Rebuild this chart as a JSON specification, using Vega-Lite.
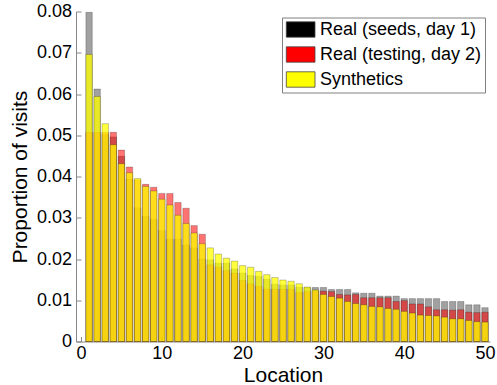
{
  "$schema": "https://vega.github.io/schema/vega-lite/v6.json",
  "width": 414,
  "height": 330,
  "autosize": {"type": "none"},
  "padding": {"left": 76, "top": 11.5, "right": 7, "bottom": 43.5},
  "background": "#ffffff",
  "data": {"values": [
    {"loc": 1, "seeds": 0.0798, "testing": 0.0507, "synth": 0.0696},
    {"loc": 2, "seeds": 0.0612, "testing": 0.0507, "synth": 0.0594},
    {"loc": 3, "seeds": 0.0502, "testing": 0.0507, "synth": 0.0528},
    {"loc": 4, "seeds": 0.0496, "testing": 0.0507, "synth": 0.0477},
    {"loc": 5, "seeds": 0.0449, "testing": 0.0464, "synth": 0.0431},
    {"loc": 6, "seeds": 0.0394, "testing": 0.0423, "synth": 0.0409},
    {"loc": 7, "seeds": 0.0324, "testing": 0.0392, "synth": 0.0395},
    {"loc": 8, "seeds": 0.0303, "testing": 0.0381, "synth": 0.0376},
    {"loc": 9, "seeds": 0.0296, "testing": 0.0374, "synth": 0.0365},
    {"loc": 10, "seeds": 0.0269, "testing": 0.0359, "synth": 0.0345},
    {"loc": 11, "seeds": 0.0248, "testing": 0.0359, "synth": 0.0331},
    {"loc": 12, "seeds": 0.0248, "testing": 0.0337, "synth": 0.0306},
    {"loc": 13, "seeds": 0.0234, "testing": 0.0323, "synth": 0.0286},
    {"loc": 14, "seeds": 0.0227, "testing": 0.0281, "synth": 0.0263},
    {"loc": 15, "seeds": 0.0200, "testing": 0.0260, "synth": 0.0237},
    {"loc": 16, "seeds": 0.0198, "testing": 0.0186, "synth": 0.0227},
    {"loc": 17, "seeds": 0.0190, "testing": 0.0180, "synth": 0.0212},
    {"loc": 18, "seeds": 0.0190, "testing": 0.0172, "synth": 0.0202},
    {"loc": 19, "seeds": 0.0176, "testing": 0.0166, "synth": 0.0195},
    {"loc": 20, "seeds": 0.0166, "testing": 0.0148, "synth": 0.0184},
    {"loc": 21, "seeds": 0.0160, "testing": 0.0140, "synth": 0.0180},
    {"loc": 22, "seeds": 0.0158, "testing": 0.0134, "synth": 0.0170},
    {"loc": 23, "seeds": 0.0151, "testing": 0.0127, "synth": 0.0162},
    {"loc": 24, "seeds": 0.0139, "testing": 0.0127, "synth": 0.0155},
    {"loc": 25, "seeds": 0.0137, "testing": 0.0127, "synth": 0.0149},
    {"loc": 26, "seeds": 0.0137, "testing": 0.0127, "synth": 0.0146},
    {"loc": 27, "seeds": 0.0132, "testing": 0.0119, "synth": 0.0140},
    {"loc": 28, "seeds": 0.0131, "testing": 0.0121, "synth": 0.0132},
    {"loc": 29, "seeds": 0.0131, "testing": 0.0123, "synth": 0.0125},
    {"loc": 30, "seeds": 0.0131, "testing": 0.0122, "synth": 0.0114},
    {"loc": 31, "seeds": 0.0126, "testing": 0.0121, "synth": 0.0109},
    {"loc": 32, "seeds": 0.0126, "testing": 0.0114, "synth": 0.0105},
    {"loc": 33, "seeds": 0.0126, "testing": 0.0113, "synth": 0.0097},
    {"loc": 34, "seeds": 0.0118, "testing": 0.0114, "synth": 0.0092},
    {"loc": 35, "seeds": 0.0117, "testing": 0.0106, "synth": 0.0089},
    {"loc": 36, "seeds": 0.0117, "testing": 0.0106, "synth": 0.0085},
    {"loc": 37, "seeds": 0.0110, "testing": 0.0106, "synth": 0.0084},
    {"loc": 38, "seeds": 0.0110, "testing": 0.0106, "synth": 0.0080},
    {"loc": 39, "seeds": 0.0110, "testing": 0.0097, "synth": 0.0078},
    {"loc": 40, "seeds": 0.0104, "testing": 0.0099, "synth": 0.0073},
    {"loc": 41, "seeds": 0.0104, "testing": 0.0091, "synth": 0.0069},
    {"loc": 42, "seeds": 0.0104, "testing": 0.0091, "synth": 0.0064},
    {"loc": 43, "seeds": 0.0104, "testing": 0.0084, "synth": 0.0063},
    {"loc": 44, "seeds": 0.0104, "testing": 0.0077, "synth": 0.0062},
    {"loc": 45, "seeds": 0.0097, "testing": 0.0077, "synth": 0.0059},
    {"loc": 46, "seeds": 0.0097, "testing": 0.0076, "synth": 0.0055},
    {"loc": 47, "seeds": 0.0097, "testing": 0.0077, "synth": 0.0055},
    {"loc": 48, "seeds": 0.0089, "testing": 0.0071, "synth": 0.0051},
    {"loc": 49, "seeds": 0.0089, "testing": 0.0070, "synth": 0.0048},
    {"loc": 50, "seeds": 0.0082, "testing": 0.0071, "synth": 0.0047}
  ]},
  "encoding": {
    "x": {
      "field": "loc", "type": "quantitative",
      "scale": {"domain": [0, 50], "nice": false, "zero": false},
      "axis": {"title": "Location", "values": [0, 10, 20, 30, 40, 50], "format": "d", "titleY": 34, "titleBaseline": "middle"}
    }
  },
  "layer": [
    {
      "mark": {"type": "bar", "size": 6.4, "fillOpacity": 0.37, "stroke": "#000", "strokeOpacity": 0.22, "strokeWidth": 1},
      "encoding": {
        "y": {"field": "seeds", "type": "quantitative", "stack": null,
          "scale": {"domain": [0, 0.08], "nice": false},
          "axis": {"title": "Proportion of visits", "values": [0, 0.01, 0.02, 0.03, 0.04, 0.05, 0.06, 0.07, 0.08],
            "labelExpr": "datum.value == 0 ? '0' : format(datum.value, '.2f')", "titleX": -56, "titleBaseline": "middle"}},
        "color": {"datum": "Real (seeds, day 1)", "type": "nominal",
          "scale": {"domain": ["Real (seeds, day 1)", "Real (testing, day 2)", "Synthetics"], "range": ["#000000", "#ff0000", "#ffff00"]}}
      }
    },
    {
      "mark": {"type": "bar", "size": 6.4, "fillOpacity": 0.55, "stroke": "#000", "strokeOpacity": 0.22, "strokeWidth": 1},
      "encoding": {
        "y": {"field": "testing", "type": "quantitative", "stack": null},
        "color": {"datum": "Real (testing, day 2)", "type": "nominal"}
      }
    },
    {
      "mark": {"type": "bar", "size": 6.4, "fillOpacity": 0.76, "stroke": "#000", "strokeOpacity": 0.22, "strokeWidth": 1},
      "encoding": {
        "y": {"field": "synth", "type": "quantitative", "stack": null},
        "color": {"datum": "Synthetics", "type": "nominal"}
      }
    }
  ],
  "config": {
    "view": {"stroke": null},
    "font": "Liberation Sans",
    "axis": {
      "grid": false,
      "domainColor": "#888888",
      "domainWidth": 1,
      "tickColor": "#888888",
      "tickSize": -5,
      "tickWidth": 1,
      "labelFont": "Liberation Sans",
      "labelFontSize": 18,
      "labelColor": "#000000",
      "labelPadding": 9.5,
      "titleFont": "Liberation Sans",
      "titleFontSize": 21,
      "titleFontWeight": "normal",
      "titleColor": "#000000"
    },
    "axisX": {"labelPadding": 8},
    "legend": {
      "orient": "none",
      "legendX": 206,
      "legendY": 6,
      "title": null,
      "strokeColor": "#808080",
      "fillColor": "#ffffff",
      "padding": 3,
      "labelFont": "Liberation Sans",
      "labelFontSize": 18,
      "labelColor": "#000000",
      "labelLimit": 400,
      "symbolType": "M-1,-1H2.73V1H-1Z",
      "symbolSize": 237,
      "symbolOpacity": 1,
      "symbolStrokeColor": "#444444",
      "symbolStrokeWidth": 0.8,
      "rowPadding": 5,
      "labelOffset": 17
    }
  }
}
